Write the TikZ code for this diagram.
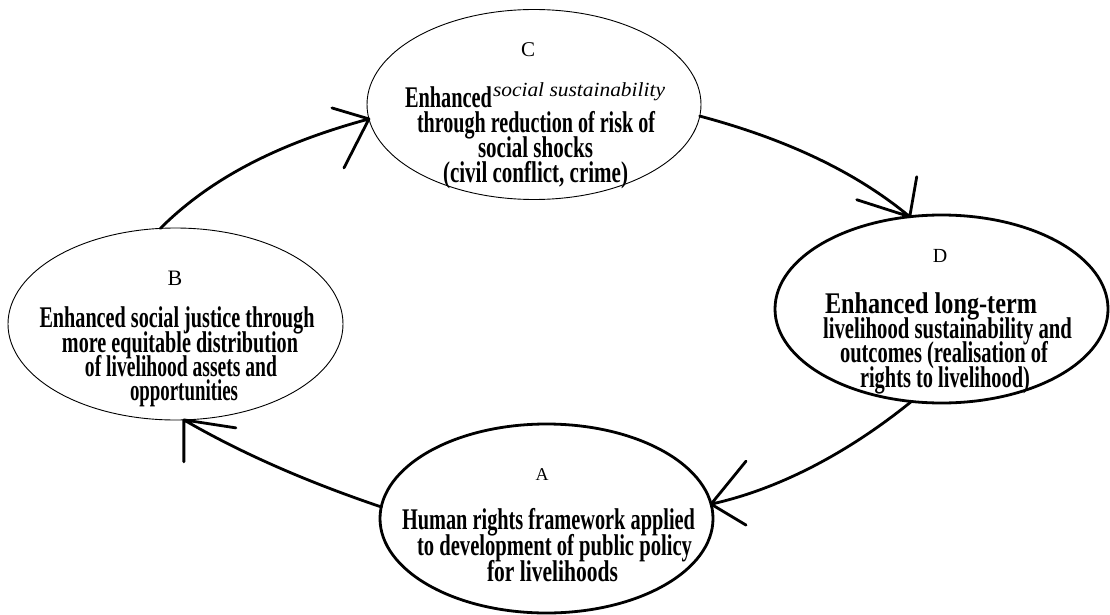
\documentclass[tikz,border=0pt]{standalone}
\usepackage{fontspec}
\setmainfont{Liberation Serif}
\usepackage{graphicx}
\usetikzlibrary{shapes.geometric}
\newcommand\sq[2]{\resizebox{#1pt}{\height}{#2}}
\tikzset{
  oval/.style={ellipse, draw, inner sep=0pt, outer sep=0pt, minimum width=333pt, minimum height=189pt},
  thinoval/.style={oval, line width=0.9pt},
  thickoval/.style={oval, line width=2.8pt},
  conn/.style={line width=2.8pt, line cap=round, line join=round},
  bl/.style={anchor=base, inner sep=0pt, font=\fontsize{30}{30}\selectfont\bfseries},
  lab/.style={anchor=base, inner sep=0pt},
  itl/.style={anchor=base, inner sep=0pt, font=\fontsize{20}{20}\selectfont\itshape}
}
\begin{document}
\begin{tikzpicture}[x=1pt,y=-1pt]
\useasboundingbox (0,0) rectangle (1110,615);
% ellipses
\node[thinoval, minimum height=192pt, minimum width=335pt] (B) at (175.5,324) {};
\node[thinoval, minimum height=190pt, minimum width=334pt] (C) at (534,104.5) {};
\node[thickoval, minimum height=188pt, minimum width=333pt] (D) at (941.5,309) {};
\node[thickoval, minimum height=189pt, minimum width=333pt] (A) at (546.5,518.5) {};
% labels
\node[lab, font=\fontsize{22}{22}\selectfont] (Blab) at (175,285) {B};
\node[lab, font=\fontsize{21}{21}\selectfont] (Clab) at (528,57) {C};
\node[lab, font=\fontsize{20}{20}\selectfont] (Dlab) at (940,262) {D};
\node[lab, font=\fontsize{18}{18}\selectfont] (Alab) at (542,480) {A};
% B text
\node[bl] (b1) at (177,327) {\sq{275}{Enhanced social justice through}};
\node[bl] (b2) at (180,352) {\sq{236}{more equitable distribution}};
\node[bl] (b3) at (181,376) {\sq{192}{of livelihood assets and}};
\node[bl] (b4) at (184,400) {\sq{108}{opportunities}};
% C text
\node[bl] (c1) at (448.5,107) {\sq{87}{Enhanced}};
\node[itl] (c1i) at (579,97) {\sq{172}{social sustainability}};
\node[bl] (c2) at (536,132) {\sq{238}{through reduction of risk of}};
\node[bl] (c3) at (535.5,157) {\sq{115}{social shocks}};
\node[bl] (c4) at (535.5,182) {\sq{185}{(civil conflict, crime)}};
% D text
\node[bl] (d1) at (931,313) {\sq{212}{Enhanced long-term}};
\node[bl] (d2) at (947.5,338) {\sq{249}{livelihood sustainability and}};
\node[bl] (d3) at (944,362) {\sq{208}{outcomes (realisation of}};
\node[bl] (d4) at (945,387) {\sq{170}{rights to livelihood)}};
% A text
\node[bl] (a1) at (548.5,529) {\sq{293}{Human rights framework applied}};
\node[bl] (a2) at (554.5,555) {\sq{275}{to development of public policy}};
\node[bl] (a3) at (552.5,581) {\sq{131}{for livelihoods}};
% connectors
\draw[conn] (B.99) .. controls +(57,-57) and +(-77,21) .. (C.185)
  -- ++(-37,-11) (C.185) -- ++(-25,49);
\draw[conn] (C.356) .. controls +(75,20) and +(-60,-50) .. (D.109)
  -- ++(-53,-17) (D.109) -- ++(7,-40);
\draw[conn] (D.252) .. controls +(-58,47) and +(73,-16) .. (A.5)
  -- ++(35,-43) (A.5) -- ++(35,21);
\draw[conn] (A.176) .. controls +(-68,-23) and +(62,36) .. (B.275)
  -- ++(52,8) (B.275) -- ++(0,42);
\end{tikzpicture}
\end{document}
